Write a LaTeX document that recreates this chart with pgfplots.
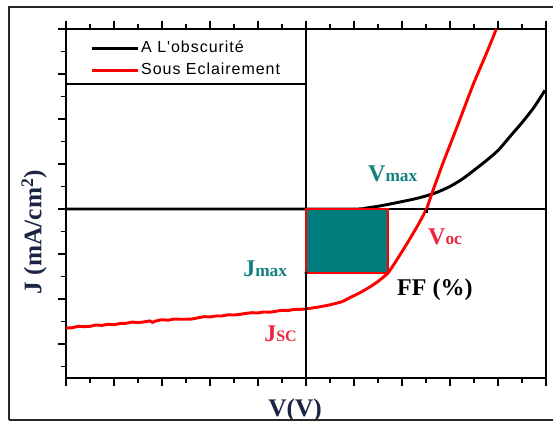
\documentclass[border=0pt]{standalone}
\usepackage{pgfplots}
\pgfplotsset{compat=1.18}
\usepackage{fontspec}
\setmainfont{Liberation Serif}
\newfontfamily\legfont{Liberation Sans}[LetterSpace=6]
\definecolor{tealfill}{RGB}{0,124,124}
\definecolor{teallab}{RGB}{20,128,128}
\definecolor{redlab}{RGB}{238,38,62}
\definecolor{axlab}{RGB}{28,36,68}
\begin{document}
\begin{tikzpicture}
\begin{axis}[
  scale only axis, width=360pt, height=261.75pt,
  xmin=-1, xmax=1, ymin=-3.756, ymax=4,
  xtick={-1,-0.8,-0.6,-0.4,-0.2,0,0.2,0.4,0.6,0.8,1},
  ytick={-3,-2,-1,0,1,2,3,4},
  minor x tick num=1, minor y tick num=1,
  extra y ticks={-3.5}, extra y tick labels={},
  extra y tick style={major tick length=4pt},
  xticklabels={}, yticklabels={},
  tick align=outside, xtick pos=both, ytick pos=left,
  major tick length=6pt, minor tick length=4pt,
  every tick/.style={black, line width=0.9pt},
  axis line style={line width=1pt},
  clip=false,
  legend cell align=left,
  legend image code/.code={\draw[#1] (0pt,0pt) -- (34.5pt,0pt);},
  legend style={draw=none, fill=none, at={(0.05,0.972)}, anchor=north west,
    inner sep=0pt, row sep=2.5pt,
    font=\legfont\fontsize{12}{12}\selectfont,
    nodes={inner sep=1.5pt, text height=8.6pt, text depth=2.4pt}},
]
% zero lines
\draw[line width=0.9pt] (axis cs:0,-3.756) -- (axis cs:0,4);
\draw[line width=0.9pt] (axis cs:-1,0) -- (axis cs:1,0);
% legend box
\draw[line width=0.9pt] (rel axis cs:0,0.8424) -- (rel axis cs:0.5,0.8424);
\draw[line width=1.6pt] (rel axis cs:0,1) -- (rel axis cs:0.5,1);

\addplot[black, line width=2.2pt, smooth, tension=0.4] coordinates {
(-1,0) (0,0) (0.22,0) (0.25,0.02) (0.30,0.06) (0.35,0.11) (0.40,0.165) (0.45,0.22)
(0.50,0.29) (0.55,0.38) (0.60,0.50) (0.65,0.66) (0.70,0.86) (0.75,1.07)
(0.80,1.30) (0.85,1.61) (0.90,1.92) (0.95,2.26) (0.996,2.64)
};
\addlegendentry{A L'obscurité}
\addplot[red, line width=2.2pt, smooth, tension=0.3] coordinates {
(-1.000,-2.640) (-0.975,-2.640) (-0.950,-2.609) (-0.925,-2.614) (-0.900,-2.608)
(-0.875,-2.578) (-0.850,-2.587) (-0.825,-2.562) (-0.800,-2.571) (-0.775,-2.546)
(-0.750,-2.540) (-0.725,-2.515) (-0.700,-2.524) (-0.675,-2.509) (-0.650,-2.488)
(-0.640,-2.520) (-0.625,-2.488) (-0.600,-2.462) (-0.575,-2.472) (-0.550,-2.446)
(-0.525,-2.451) (-0.500,-2.450) (-0.475,-2.445) (-0.450,-2.419) (-0.425,-2.394)
(-0.400,-2.398) (-0.375,-2.378) (-0.350,-2.377) (-0.325,-2.352) (-0.300,-2.356)
(-0.275,-2.341) (-0.250,-2.320) (-0.225,-2.305) (-0.200,-2.309) (-0.175,-2.289)
(-0.150,-2.293) (-0.125,-2.273) (-0.100,-2.252) (-0.075,-2.257) (-0.050,-2.231)
(-0.025,-2.231) (0.000,-2.220) (0.05,-2.18) (0.1,-2.13) (0.15,-2.06) (0.183,-1.97)
(0.225,-1.86) (0.267,-1.73) (0.30,-1.61) (0.3417,-1.422) (0.3833,-1.089)
(0.425,-0.733) (0.4667,-0.356) (0.5021,0) (0.5208,0.289) (0.5708,1.022)
(0.6292,1.822) (0.6958,2.756) (0.7542,3.489) (0.793,4.0)
};
\addlegendentry{Sous Eclairement}
\addplot[fill=tealfill, draw=red, line width=0.9pt, forget plot] coordinates {
(0,0) (0.3417,0) (0.3417,-1.422) (0,-1.422)} -- cycle;
\addplot[only marks, mark=*, mark size=1pt, black, forget plot] coordinates {(0,-1.422) (0,-2.22)};
\addplot[black, line width=1.2pt, forget plot] coordinates {(0.503,0) (0.503,-0.08)};

\node[anchor=base west, inner sep=0, text=teallab, font=\bfseries] at (axis cs:0.258,0.6)
  {\fontsize{18}{18}\selectfont V\fontsize{13}{13}\selectfont max};
\node[anchor=base west, inner sep=0, text=redlab, font=\bfseries] at (axis cs:0.508,-0.8)
  {\fontsize{18}{18}\selectfont V\fontsize{13}{13}\selectfont oc};
\node[anchor=base west, inner sep=0, text=teallab, font=\bfseries] at (axis cs:-0.2625,-1.49)
  {\fontsize{18}{18}\selectfont J\fontsize{13}{13}\selectfont max};
\node[anchor=base west, inner sep=0, text=black, font=\bfseries] at (axis cs:0.379,-1.93)
  {\fontsize{18}{18}\selectfont FF (\%)};
\node[anchor=base west, inner sep=0, text=redlab, font=\bfseries] at (axis cs:-0.175,-2.956)
  {\fontsize{18}{18}\selectfont J\fontsize{12}{12}\selectfont SC};
\node[anchor=base west, inner sep=0, text=axlab, font=\bfseries] at (axis cs:-0.158,-4.622)
  {\fontsize{19}{19}\selectfont V(V)};
\node[rotate=90, anchor=center, inner sep=0, text=axlab, font=\bfseries] at (axis cs:-1.133,-0.511)
  {\fontsize{19}{19}\selectfont J (mA/cm$^{\mathbf{2}}$)};
\coordinate (ll) at (rel axis cs:0,0);
\coordinate (ur) at (rel axis cs:1,1);
\end{axis}
\draw[line width=1.2pt, black!85] ([shift={(-42.75pt,-31.5pt)}]ll) -- ([shift={(-42.75pt,16.5pt)}]ur -| ll) -- ([shift={(12pt,16.5pt)}]ur);
\draw[line width=1.2pt, black!85] ([shift={(-42.75pt,-31.5pt)}]ll) -- ([shift={(12pt,-31.5pt)}]ll -| ur);
\pgfresetboundingbox
\path[use as bounding box] ([shift={(-49.5pt,-33.75pt)}]ll) rectangle ([shift={(5.25pt,21.75pt)}]ur);
\end{tikzpicture}
\end{document}
